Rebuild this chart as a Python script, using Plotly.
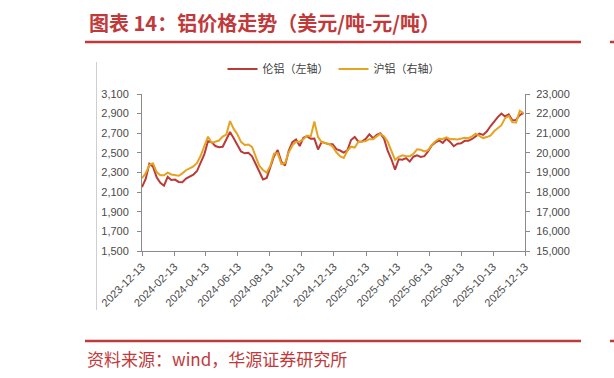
import pandas as pd
import plotly.graph_objects as go

# ---------------- data ----------------
start_date = "2023-12-13"
n_weeks = 105
lme_usd = [2150, 2235, 2390, 2360, 2250, 2195, 2165, 2255, 2223, 2228,
           2204, 2200, 2238, 2257, 2278, 2315, 2395, 2488, 2620, 2610,
           2570, 2558, 2562, 2640, 2712, 2650, 2575, 2515, 2496, 2500,
           2465, 2390, 2305, 2230, 2245, 2350, 2466, 2529, 2410, 2370,
           2520, 2610, 2636, 2570, 2655, 2670, 2643, 2645, 2535, 2612,
           2597, 2587, 2588, 2538, 2524, 2502, 2526, 2631, 2662, 2614,
           2617, 2642, 2690, 2650, 2683, 2699, 2645, 2520, 2435, 2330,
           2435, 2430, 2447, 2412, 2461, 2476, 2459, 2466, 2514, 2575,
           2607, 2626, 2602, 2644, 2612, 2568, 2594, 2597, 2623, 2623,
           2642, 2673, 2696, 2683, 2717, 2771, 2820, 2864, 2901, 2871,
           2893, 2831, 2836, 2886, 2905]
shfe_cny = [18720, 18950, 19380, 19470, 19020, 18860, 18860, 18990, 18900, 18873,
            18835, 18955, 19115, 19214, 19310, 19490, 19850, 20350, 20825, 20510,
            20590, 20630, 20830, 20930, 21620, 21220, 20950, 20560, 20400, 20430,
            20300, 19810, 19330, 19128, 18990, 19350, 19960, 19990, 19430, 19480,
            20020, 20380, 20570, 20570, 20700, 20880, 20830, 21600, 20800, 20550,
            20488, 20450, 20320, 20030, 19830, 19740, 20110, 20315, 20270, 20570,
            20570, 20600, 20700, 20690, 20840, 20980, 20840, 20570, 20100, 19640,
            19800, 19880, 19830, 19830, 19950, 20180, 20160, 20075, 20140, 20400,
            20590, 20720, 20710, 20790, 20700, 20710, 20680, 20730, 20770, 20745,
            20840, 20980, 20850, 20755, 20805, 20880, 21100, 21270, 21410, 21770,
            21880, 21560, 21550, 22150, 22030]
tick_dates = ["2023-12-13", "2024-02-13", "2024-04-13", "2024-06-13", "2024-08-13",
              "2024-10-13", "2024-12-13", "2025-02-13", "2025-04-13", "2025-06-13",
              "2025-08-13", "2025-10-13", "2025-12-13"]
series_names = ["伦铝（左轴）", "沪铝（右轴）"]
left_range = [1500, 3100]
left_step = 200
right_range = [15000, 23000]
right_step = 1000

title_text = "图表 14：铝价格走势（美元/吨-元/吨）"
source_text = "资料来源：wind，华源证券研究所"

# ---------------- layout helpers ----------------
W, H = 614, 378
L, R, T, B = 142, 525, 94, 251


def fx(px):
    return (px - L) / (R - L)


def fy(py):
    return (B - py) / (B - T)


RED = "#BA3A37"
GOLD = "#E6A322"
TITLE_RED = "#C0393B"
AX = "#8A8A8A"
TXT = "#4A4A4A"
FONT = "Liberation Sans, Arial, sans-serif"
CJK = "Noto Sans CJK SC"

dates = pd.date_range(start_date, periods=n_weeks, freq="7D")

fig = go.Figure()
fig.add_trace(go.Scatter(x=dates, y=lme_usd, name=series_names[0], mode="lines",
                         line=dict(color=RED, width=2)))
fig.add_trace(go.Scatter(x=dates, y=shfe_cny, name=series_names[1], mode="lines",
                         yaxis="y2", line=dict(color=GOLD, width=2)))

axis_common = dict(showline=True, linecolor=AX, linewidth=1, ticks="outside",
                   ticklen=4, tickcolor=AX, showgrid=False, zeroline=False,
                   automargin=False,
                   tickfont=dict(family=FONT, size=11, color=TXT))

fig.update_layout(
    template="none",
    width=W, height=H,
    margin=dict(l=L, r=W - R, t=T, b=H - B, pad=0, autoexpand=False),
    paper_bgcolor="white", plot_bgcolor="white",
    showlegend=True,
    legend=dict(orientation="h", x=0.5, xanchor="center", y=fy(69), yanchor="middle",
                font=dict(family=CJK, size=11, color="#404040"),
                itemwidth=30, tracegroupgap=0, bgcolor="rgba(0,0,0,0)"),
    xaxis=dict(type="date", range=["2023-12-13", "2025-12-13"], tickvals=tick_dates,
               tickformat="%Y-%m-%d", tickangle=-45, **axis_common),
    yaxis=dict(range=left_range, tick0=left_range[0], dtick=left_step, tickformat=",",
               ticklabelstandoff=6, **axis_common),
    yaxis2=dict(range=right_range, tick0=right_range[0], dtick=right_step, tickformat=",",
                overlaying="y", side="right", ticklabelstandoff=4, **axis_common),
)

# title and source
fig.add_annotation(x=fx(87), y=fy(22), xref="paper", yref="paper", text="<b>" + title_text + "</b>",
                   showarrow=False, xanchor="left", yanchor="middle",
                   font=dict(family=CJK, size=20, color=TITLE_RED))
fig.add_annotation(x=fx(85), y=fy(358), xref="paper", yref="paper", text=source_text,
                   showarrow=False, xanchor="left", yanchor="middle",
                   font=dict(family=CJK, size=17, color=TITLE_RED))

# decorative rules
for y in (42, 341):
    fig.add_shape(type="line", xref="paper", yref="paper", x0=fx(85), x1=fx(581),
                  y0=fy(y), y1=fy(y), line=dict(color=TITLE_RED, width=2.5))
    fig.add_shape(type="line", xref="paper", yref="paper", x0=fx(610), x1=fx(616),
                  y0=fy(y), y1=fy(y), line=dict(color=TITLE_RED, width=2.5))
fig.add_shape(type="line", xref="paper", yref="paper", x0=fx(96.5), x1=fx(96.5),
              y0=fy(62), y1=fy(310), line=dict(color="#CFCFCF", width=1))

fig.write_html("out.html",
               config={"displayModeBar": False},
               post_script="document.body.style.margin='0';document.body.style.padding='0';")
